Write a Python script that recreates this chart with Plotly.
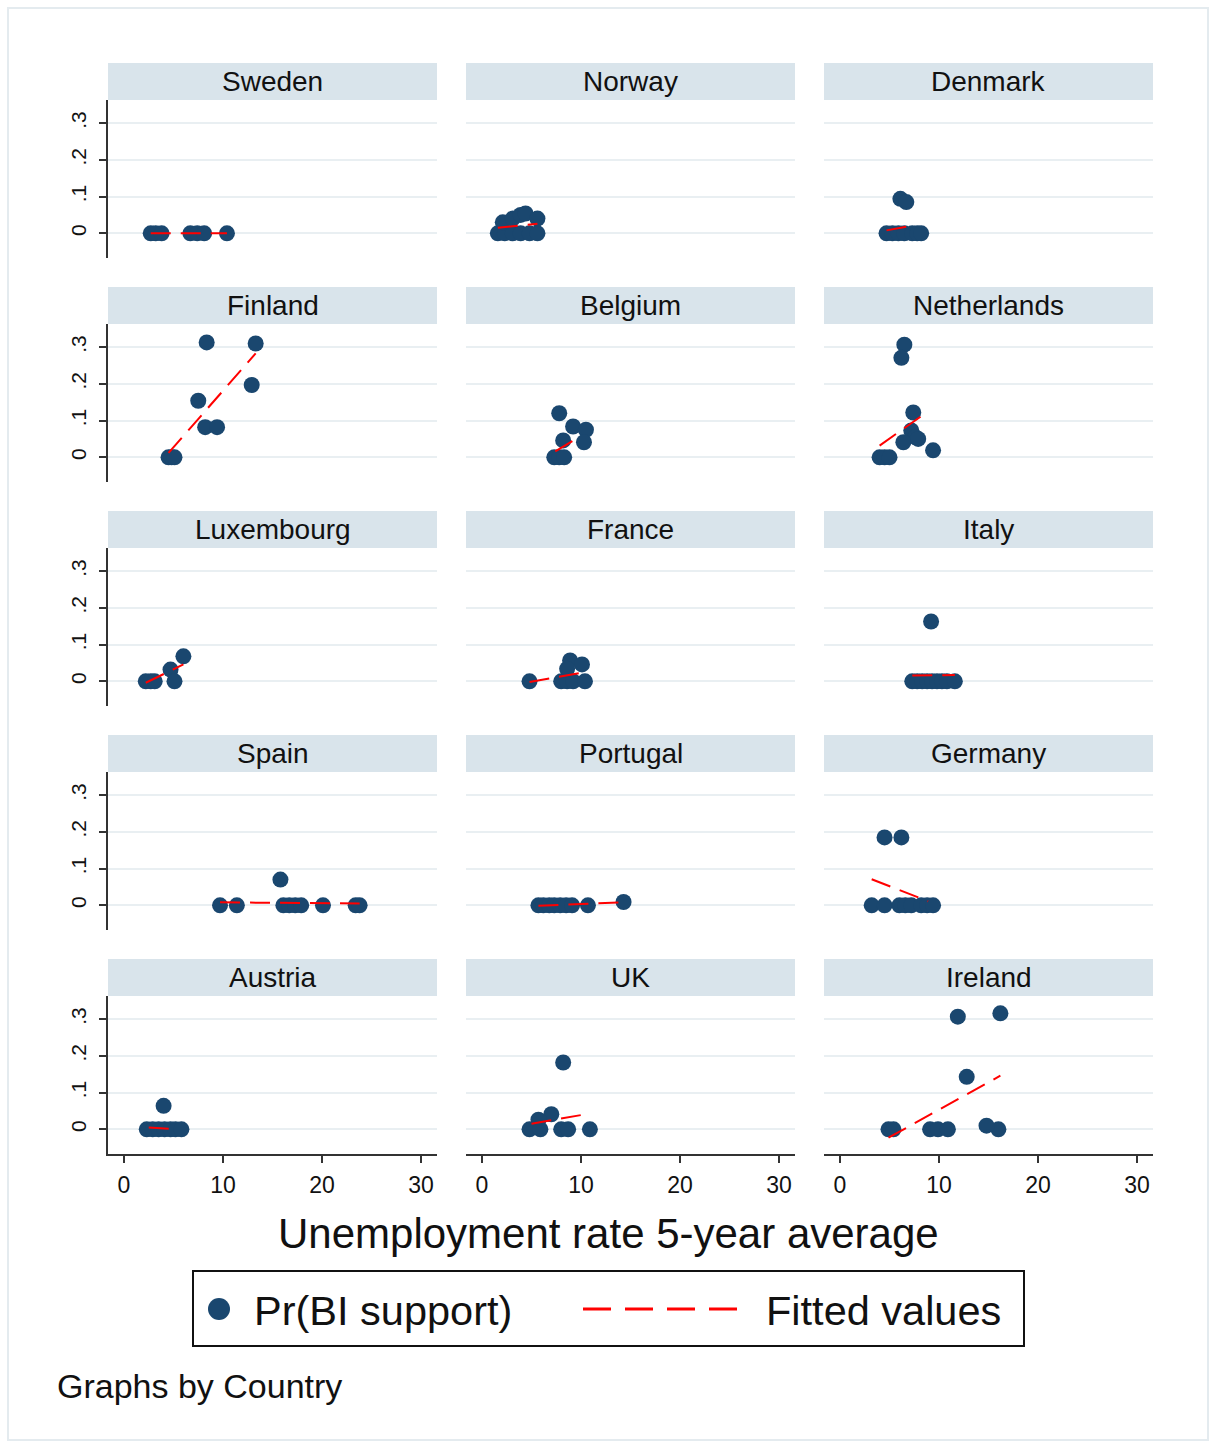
import plotly.graph_objects as go

# ---------------------------------------------------------------------------
# Data: unemployment rate (5-year average) and predicted probability of
# basic-income support, by country.  Fitted-value segments are given by their
# end points (x from, x to, y from, y to).
# ---------------------------------------------------------------------------
countries = ["Sweden", "Norway", "Denmark",
             "Finland", "Belgium", "Netherlands",
             "Luxembourg", "France", "Italy",
             "Spain", "Portugal", "Germany",
             "Austria", "UK", "Ireland"]

sweden_x = [2.7, 3.2, 3.8, 6.7, 7.4, 8.1, 10.4]
sweden_y = [0, 0, 0, 0, 0, 0, 0]
norway_x = [1.6, 2.3, 3.1, 3.9, 4.8, 5.6, 2.1, 3.1, 3.9, 4.4, 5.6]
norway_y = [0, 0, 0, 0, 0, 0, 0.03, 0.04, 0.05, 0.054, 0.04]
denmark_x = [4.7, 5.3, 5.9, 6.5, 7.3, 7.8, 8.2, 6.1, 6.7]
denmark_y = [0, 0, 0, 0, 0, 0, 0, 0.094, 0.085]
finland_x = [8.35, 13.3, 12.9, 7.5, 8.2, 9.4, 4.5, 4.8, 5.1]
finland_y = [0.313, 0.31, 0.197, 0.154, 0.082, 0.082, 0, 0, 0]
belgium_x = [7.8, 9.2, 10.5, 10.3, 8.2, 7.3, 7.8, 8.3]
belgium_y = [0.12, 0.084, 0.075, 0.041, 0.046, 0, 0, 0]
netherlands_x = [6.5, 6.2, 7.4, 7.2, 7.6, 6.4, 7.9, 9.4, 4.0, 4.5, 5.0]
netherlands_y = [0.307, 0.271, 0.122, 0.073, 0.055, 0.041, 0.05, 0.019, 0, 0, 0]
luxembourg_x = [6.0, 4.7, 5.1, 2.2, 2.7, 3.1]
luxembourg_y = [0.068, 0.032, 0, 0, 0, 0]
france_x = [4.8, 8.0, 8.6, 9.2, 10.4, 8.9, 10.1, 8.6]
france_y = [0, 0, 0, 0, 0, 0.057, 0.046, 0.034]
italy_x = [9.2, 7.3, 7.8, 8.3, 8.8, 9.3, 9.8, 10.3, 10.8, 11.6]
italy_y = [0.163, 0, 0, 0, 0, 0, 0, 0, 0, 0]
spain_x = [15.8, 9.7, 11.4, 16.1, 16.7, 17.3, 17.9, 20.1, 23.4, 23.8]
spain_y = [0.07, 0, 0, 0, 0, 0, 0, 0, 0, 0]
portugal_x = [5.7, 6.2, 6.8, 7.3, 7.9, 8.5, 9.1, 10.7, 14.3]
portugal_y = [0, 0, 0, 0, 0, 0, 0, 0, 0.009]
germany_x = [4.5, 6.2, 3.2, 4.5, 6.0, 6.6, 7.2, 8.2, 8.8, 9.4]
germany_y = [0.185, 0.185, 0, 0, 0, 0, 0, 0, 0, 0]
austria_x = [4.0, 2.3, 2.9, 3.5, 4.1, 4.7, 5.2, 5.8]
austria_y = [0.064, 0, 0, 0, 0, 0, 0, 0]
uk_x = [8.2, 7.0, 5.7, 4.8, 5.9, 8.0, 8.7, 10.9]
uk_y = [0.182, 0.041, 0.026, 0, 0, 0, 0, 0]
ireland_x = [11.9, 16.2, 12.8, 4.9, 5.4, 9.1, 9.9, 10.9, 16.0, 14.8]
ireland_y = [0.307, 0.316, 0.143, 0, 0, 0, 0, 0, 0, 0.01]

fit_x_from = [2.7, 1.6, 4.7, 4.5, 7.4, 4.0, 2.2, 4.8, 7.3, 9.7, 5.7, 3.2, 2.5, 5.0, 4.9]
fit_x_to = [10.4, 5.6, 7.1, 13.3, 9.6, 8.9, 6.0, 10.4, 11.6, 23.8, 14.3, 8.9, 4.8, 10.9, 16.2]
fit_y_from = [0.0, 0.015, 0.008, 0.012, 0.016, 0.032, -0.004, -0.002, 0.016, 0.008, -0.001, 0.071, 0.005, 0.015, -0.023]
fit_y_to = [0.0, 0.026, 0.020, 0.283, 0.052, 0.125, 0.046, 0.025, 0.017, 0.005, 0.008, 0.011, 0.001, 0.043, 0.146]

xs = [sweden_x, norway_x, denmark_x, finland_x, belgium_x, netherlands_x,
      luxembourg_x, france_x, italy_x, spain_x, portugal_x, germany_x,
      austria_x, uk_x, ireland_x]
ys = [sweden_y, norway_y, denmark_y, finland_y, belgium_y, netherlands_y,
      luxembourg_y, france_y, italy_y, spain_y, portugal_y, germany_y,
      austria_y, uk_y, ireland_y]

x_ticks = [0, 10, 20, 30]
y_ticks = [0, 0.1, 0.2, 0.3]
y_tick_text = ["0", ".1", ".2", ".3"]

# ---------------------------------------------------------------------------
# Styling / geometry (pixels)
# ---------------------------------------------------------------------------
W, H = 1216, 1445
FONT = "Liberation Sans, Arial, sans-serif"
NAVY = "#1a476f"
RED = "#ff0000"
STRIP = "#d9e4eb"
GRID = "#e9eff2"
AXIS = "#333333"

col_left = [108, 466, 824]
panel_w = 329
row_step = 224
strip_top0, strip_h = 63, 37
plot_top0, plot_h = 100, 158

X_RANGE = [-16 / 9.9, 313 / 9.9]
Y_RANGE = [-(plot_h - 133.3) / 367.0, 133.3 / 367.0]

fig = go.Figure()
shapes = []
annotations = []
layout_axes = {}

for i, name in enumerate(countries):
    r, c = divmod(i, 3)
    k = i + 1
    xa = "x" if k == 1 else f"x{k}"
    ya = "y" if k == 1 else f"y{k}"
    left = col_left[c]
    top = plot_top0 + r * row_step
    bottom = top + plot_h

    fig.add_trace(go.Scatter(
        x=xs[i], y=ys[i], mode="markers", xaxis=xa, yaxis=ya,
        marker=dict(color=NAVY, size=16),
        showlegend=False, hoverinfo="x+y"))
    fig.add_trace(go.Scatter(
        x=[fit_x_from[i], fit_x_to[i]], y=[fit_y_from[i], fit_y_to[i]],
        mode="lines", xaxis=xa, yaxis=ya,
        line=dict(color=RED, width=2, dash="20px,10px"),
        showlegend=False, hoverinfo="skip"))

    bottom_row = (r == 4)
    first_col = (c == 0)
    xkey = "xaxis" if k == 1 else f"xaxis{k}"
    ykey = "yaxis" if k == 1 else f"yaxis{k}"
    layout_axes[xkey] = dict(
        domain=[left / W, (left + panel_w) / W], anchor=ya,
        range=X_RANGE, showgrid=False, zeroline=False,
        showline=bottom_row, linecolor=AXIS, linewidth=1.5,
        ticks="outside" if bottom_row else "", ticklen=7, tickwidth=1.5,
        tickcolor=AXIS, tickvals=x_ticks,
        showticklabels=bottom_row, ticklabelstandoff=3,
        tickfont=dict(family=FONT, size=23, color="#111"))
    layout_axes[ykey] = dict(
        domain=[1 - bottom / H, 1 - top / H], anchor=xa,
        range=Y_RANGE, showgrid=True, gridcolor=GRID, gridwidth=2,
        zeroline=False, showline=first_col, linecolor=AXIS, linewidth=1.5,
        ticks="outside" if first_col else "", ticklen=7, tickwidth=1.5,
        tickcolor=AXIS, tickvals=y_ticks, ticktext=y_tick_text,
        showticklabels=first_col, tickangle=-90, ticklabelstandoff=5,
        tickfont=dict(family=FONT, size=21, color="#111"))

    # panel header strip
    st = strip_top0 + r * row_step
    shapes.append(dict(type="rect", xref="paper", yref="paper",
                       x0=left / W, x1=(left + panel_w) / W,
                       y0=1 - (st + strip_h) / H, y1=1 - st / H,
                       fillcolor=STRIP, line=dict(width=0), layer="below"))
    annotations.append(dict(text=name, xref="paper", yref="paper",
                            x=(left + panel_w / 2) / W,
                            y=1 - (st + strip_h / 2) / H,
                            xanchor="center", yanchor="middle", showarrow=False,
                            font=dict(family=FONT, size=28, color="#111")))

# outer frame
shapes.append(dict(type="rect", xref="paper", yref="paper",
                   x0=8 / W, x1=1208 / W, y0=1 - 1440 / H, y1=1 - 8 / H,
                   line=dict(color="#e4ebef", width=2), layer="below"))

# x-axis title
annotations.append(dict(text="Unemployment rate 5-year average",
                        xref="paper", yref="paper", x=0.5, y=1 - 1233 / H,
                        xanchor="center", yanchor="middle", showarrow=False,
                        font=dict(family=FONT, size=42, color="#111")))

# key box
shapes.append(dict(type="rect", xref="paper", yref="paper",
                   x0=193 / W, x1=1024 / W, y0=1 - 1346 / H, y1=1 - 1271 / H,
                   line=dict(color="#111", width=2), fillcolor="white"))
shapes.append(dict(type="circle", xref="paper", yref="paper",
                   x0=208 / W, x1=230 / W, y0=1 - 1320 / H, y1=1 - 1298 / H,
                   fillcolor=NAVY, line=dict(color=NAVY, width=0)))
shapes.append(dict(type="line", xref="paper", yref="paper",
                   x0=583 / W, x1=740 / W, y0=1 - 1309 / H, y1=1 - 1309 / H,
                   line=dict(color=RED, width=3, dash="28px,14px")))
annotations.append(dict(text="Pr(BI support)", xref="paper", yref="paper",
                        x=252 / W, y=1 - 1310 / H, xanchor="left",
                        yanchor="middle", showarrow=False,
                        font=dict(family=FONT, size=41.5, color="#111")))
annotations.append(dict(text="Fitted values", xref="paper", yref="paper",
                        x=764 / W, y=1 - 1310 / H, xanchor="left",
                        yanchor="middle", showarrow=False,
                        font=dict(family=FONT, size=41.5, color="#111")))

# note
annotations.append(dict(text="Graphs by Country", xref="paper", yref="paper",
                        x=55 / W, y=1 - 1386 / H, xanchor="left",
                        yanchor="middle", showarrow=False,
                        font=dict(family=FONT, size=34, color="#111")))

fig.update_layout(
    width=W, height=H, margin=dict(l=0, r=0, t=0, b=0),
    paper_bgcolor="white", plot_bgcolor="white",
    showlegend=False, shapes=shapes, annotations=annotations,
    font=dict(family=FONT, color="#111"),
    **layout_axes)

fig.write_html("out.html")
